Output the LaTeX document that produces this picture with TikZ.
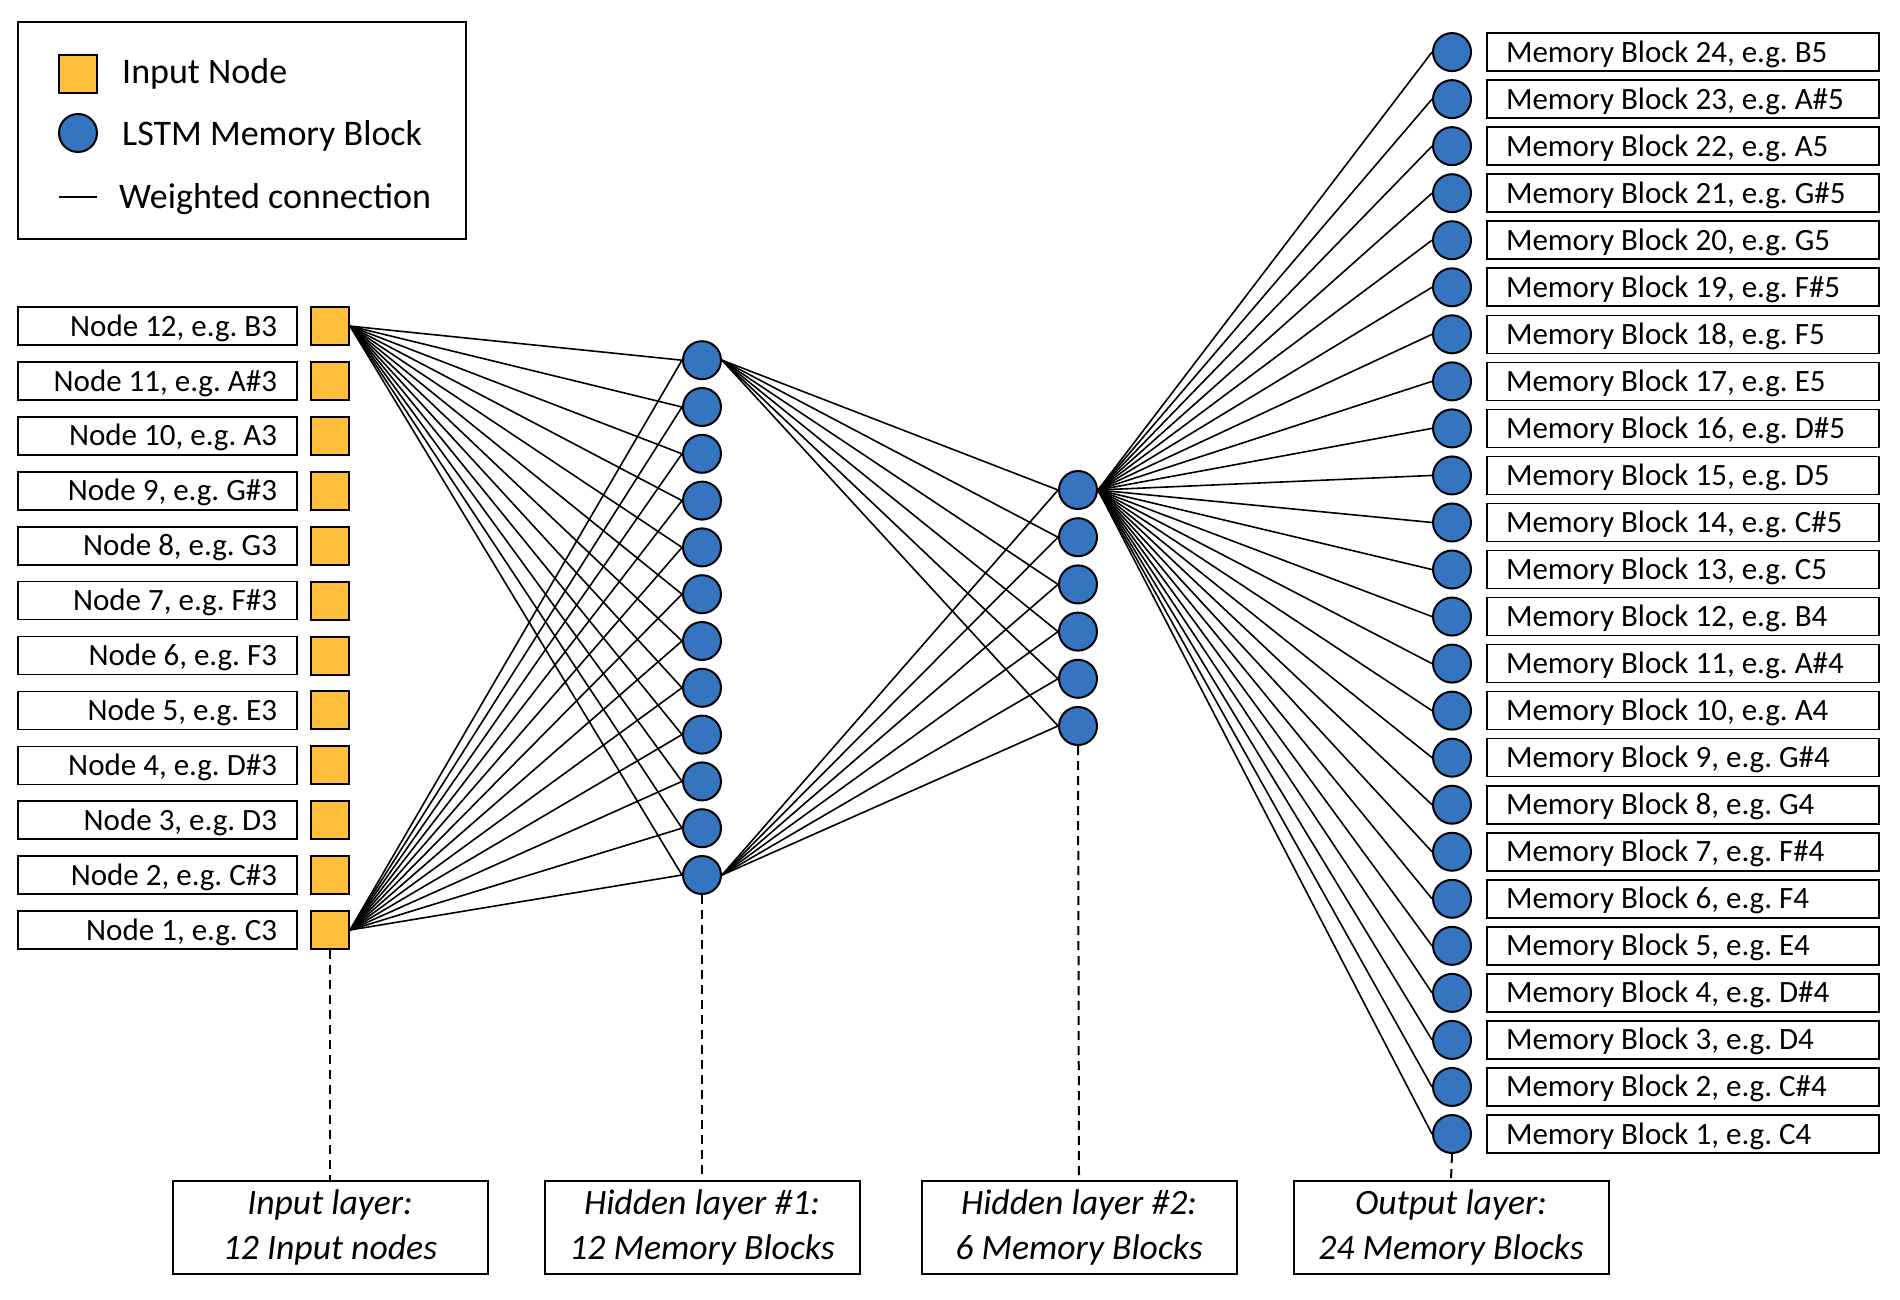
\documentclass[tikz,border=0pt]{standalone}
\usepackage{fontspec}
\setmainfont{Carlito}
\frenchspacing
\definecolor{inorange}{HTML}{FFBE3C}
\definecolor{mblue}{HTML}{3574BE}
\newcommand{\inlabeltext}[1]{\makebox[239pt][r]{#1}}
\newcommand{\outlabeltext}[1]{\makebox[354pt][l]{#1}}
\tikzset{
  lbl/.style={draw, line width=1.6pt, minimum height=38pt, inner ysep=0pt, inner xsep=0pt,
    text height=20pt, text depth=0pt, font=\fontsize{31}{37}\selectfont\frenchspacing},
  inlbl/.style={lbl, minimum width=279pt},
  outlbl/.style={lbl, minimum width=392pt},
  inbox/.style={draw, fill=inorange, line width=2pt, minimum size=38pt, inner sep=0pt},
  mblock/.style={circle, draw, fill=mblue, line width=2pt, minimum size=38pt, inner sep=0pt},
  wconn/.style={line width=1.6pt},
  guide/.style={line width=2pt, dash pattern=on 9pt off 6pt},
  capbox/.style={draw, line width=2pt, minimum width=315pt, minimum height=93pt,
    align=center, font=\fontsize{35.7}{45}\selectfont\itshape},
  legtext/.style={anchor=west, inner sep=0pt, text height=22pt, text depth=0pt,
    font=\fontsize{36}{42}\selectfont},
}
\begin{document}
\begin{tikzpicture}[x=1pt,y=-1pt]
\useasboundingbox[fill=white] (0,0) rectangle (1900,1300);

% legend
\node[draw, line width=2pt, minimum width=448pt, minimum height=217pt, inner sep=0pt] (legend) at (242,130.5) {};
\node[inbox] (lgsq) at (78,74) {};
\node[mblock] (lgci) at (78,133) {};
\coordinate (lgA) at (59,197);
\coordinate (lgB) at (97,197);
\draw[wconn] (lgA) -- (lgB);
\node[legtext] (lgt1) at (122,73) {Input Node};
\node[legtext] (lgt2) at (122,135) {LSTM Memory Block};
\node[legtext] (lgt3) at (119,197) {Weighted connection};

% input layer
\foreach \n [count=\i] in {C,C\#,D,D\#,E,F,F\#,G,G\#,A,A\#,B} {
  \pgfmathsetmacro{\yy}{930-(\i-1)*54.9}
  \node[inlbl] (inl\i) at (157.5,\yy) {\inlabeltext{Node \i, e.g. \n3}};
  \node[inbox] (in\i) at (330,\yy) {};
}

% hidden layer 1
\foreach \j in {1,...,12} {
  \pgfmathsetmacro{\yy}{875-(\j-1)*46.8}
  \node[mblock] (ha\j) at (702,\yy) {};
}
% hidden layer 2
\foreach \k in {1,...,6} {
  \pgfmathsetmacro{\yy}{726-(\k-1)*47.2}
  \node[mblock] (hb\k) at (1078,\yy) {};
}
% output layer
\foreach \n [count=\i] in {C,C\#,D,D\#,E,F,F\#,G,G\#,A,A\#,B} {
  \pgfmathsetmacro{\yy}{1134-(\i-1)*47.04}
  \pgfmathsetmacro{\yyb}{1134-(\i+11)*47.04}
  \pgfmathtruncatemacro{\ib}{\i+12}
  \node[mblock] (o\i) at (1452,\yy) {};
  \node[outlbl] (ol\i) at (1683,\yy) {\outlabeltext{Memory Block \i, e.g. \n4}};
  \node[mblock] (o\ib) at (1452,\yyb) {};
  \node[outlbl] (ol\ib) at (1683,\yyb) {\outlabeltext{Memory Block \ib, e.g. \n5}};
}

% connections
\foreach \j in {1,...,12} {
  \draw[wconn] (in12.east) -- (ha\j.west);
  \draw[wconn] (in1.east) -- (ha\j.west);
}
\foreach \k in {1,...,6} {
  \draw[wconn] (ha12.east) -- (hb\k.west);
  \draw[wconn] (ha1.east) -- (hb\k.west);
}
\foreach \m in {1,...,24} {
  \draw[wconn] (hb6.east) -- (o\m.west);
}

% captions
\node[capbox] (cap1) at (330,1227) {Input layer:\\12 Input nodes};
\node[capbox] (cap2) at (702,1227) {Hidden layer \#1:\\12 Memory Blocks};
\node[capbox] (cap3) at (1079,1227) {Hidden layer \#2:\\6 Memory Blocks};
\node[capbox] (cap4) at (1451,1227) {Output layer:\\24 Memory Blocks};

\draw[guide] (in1.south) -- (cap1.north);
\draw[guide] (ha1.south) -- (cap2.north);
\draw[guide] (hb1.south) -- (cap3.north);
\draw[guide] (o1.south) -- (cap4.north);
\end{tikzpicture}
\end{document}
